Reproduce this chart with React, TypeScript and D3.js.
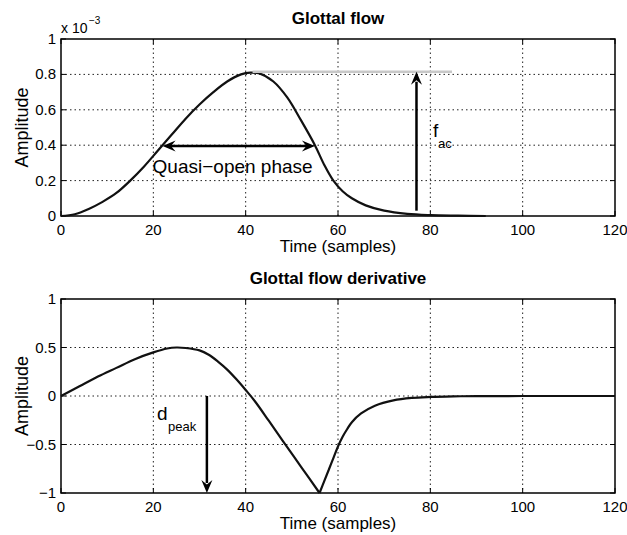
import React from 'react'
import * as d3 from 'd3'

// glottal flow (x 1e-3)
const flowT = [0, 3, 6, 9, 12, 15, 18, 21, 24, 27, 30, 33, 36, 39, 41, 43, 46, 49, 52, 55, 57, 59, 61, 63, 66, 70, 75, 80, 86, 92]
const flowV = [0, 0.01, 0.04, 0.08, 0.13, 0.2, 0.28, 0.37, 0.46, 0.55, 0.63, 0.7, 0.76, 0.8, 0.81, 0.805, 0.76, 0.67, 0.54, 0.4, 0.29, 0.2, 0.14, 0.1, 0.06, 0.03, 0.012, 0.005, 0.002, 0]

// glottal flow derivative
const derivT = [0, 4, 8, 12, 16, 20, 23, 25, 27, 30, 32, 34, 36, 38, 40, 42, 45, 48, 52, 56, 57, 58, 59, 60, 61, 62, 63, 65, 68, 72, 76, 80, 85, 90, 100, 120]
const derivV = [0, 0.1, 0.2, 0.29, 0.38, 0.45, 0.49, 0.5, 0.495, 0.47, 0.425, 0.355, 0.272, 0.172, 0.062, -0.054, -0.255, -0.46, -0.73, -1, -0.88, -0.76, -0.64, -0.52, -0.42, -0.34, -0.27, -0.18, -0.1, -0.045, -0.02, -0.01, -0.004, -0.001, 0, 0]

const xTicks = [0, 20, 40, 60, 80, 100, 120]
const flowTicks = [0, 0.2, 0.4, 0.6, 0.8, 1]
const derivTicks = [-1, -0.5, 0, 0.5, 1]

const font = '"Liberation Sans", Arial, sans-serif'
const left = 61
const right = 615

const fmt = (v: number) => (v < 0 ? '\u2212' + Math.abs(v) : String(v))

const arrowHead = (x: number, y: number, dx: number, dy: number, len = 13, half = 5.5) => {
	// tip at (x,y), pointing along (dx,dy)
	const n = Math.hypot(dx, dy)
	const ux = dx / n
	const uy = dy / n
	const px = -uy
	const py = ux
	const bx = x - ux * len
	const by = y - uy * len
	const ix = x - ux * len * 0.65
	const iy = y - uy * len * 0.65
	return `M${x},${y}L${bx + px * half},${by + py * half}L${ix},${iy}L${bx - px * half},${by - py * half}Z`
}

const Panel = ({ top, bottom, yDomain, yTicks, t, v, title }) => {
	const x = d3.scaleLinear().domain([0, 120]).range([left, right])
	const y = d3.scaleLinear().domain(yDomain).range([bottom, top])
	const line = d3
		.line<[number, number]>()
		.x(d => x(d[0]))
		.y(d => y(d[1]))
		.curve(d3.curveCatmullRom.alpha(0.5))
	// split at the minimum so a sharp corner stays sharp
	const pts: [number, number][] = t.map((d, i) => [d, v[i]])
	const iMin = d3.minIndex(v)
	const segs = iMin > 0 && iMin < v.length - 1 ? [pts.slice(0, iMin + 1), pts.slice(iMin)] : [pts]
	const tl = 5
	return (
		<g>
			{xTicks.slice(1, -1).map(d => (
				<line key={'gx' + d} x1={x(d)} x2={x(d)} y1={top} y2={bottom} stroke="#222" strokeWidth={1} strokeDasharray="1.5,3" />
			))}
			{yTicks.slice(1, -1).map(d => (
				<line key={'gy' + d} x1={left} x2={right} y1={y(d)} y2={y(d)} stroke="#222" strokeWidth={1} strokeDasharray="1.5,3" />
			))}
			{xTicks.map(d => (
				<g key={'tx' + d}>
					<line x1={x(d)} x2={x(d)} y1={bottom} y2={bottom - tl} stroke="#000" />
					<line x1={x(d)} x2={x(d)} y1={top} y2={top + tl} stroke="#000" />
					<text x={x(d)} y={bottom + 19} textAnchor="middle" fontSize={15} fontFamily={font}>
						{d}
					</text>
				</g>
			))}
			{yTicks.map(d => (
				<g key={'ty' + d}>
					<line x1={left} x2={left + tl} y1={y(d)} y2={y(d)} stroke="#000" />
					<line x1={right} x2={right - tl} y1={y(d)} y2={y(d)} stroke="#000" />
					<text x={left - 5} y={y(d) + 5} textAnchor="end" fontSize={15} fontFamily={font}>
						{fmt(d)}
					</text>
				</g>
			))}
			<rect x={left} y={top} width={right - left} height={bottom - top} fill="none" stroke="#000" strokeWidth={1.5} />
			{segs.map((s, i) => (
				<path key={'c' + i} d={line(s) || ''} fill="none" stroke="#111" strokeWidth={2.2} strokeLinejoin="round" />
			))}
			<text x={(left + right) / 2} y={top - 15} textAnchor="middle" fontSize={17} fontWeight="bold" fontFamily={font}>
				{title}
			</text>
			<text x={(left + right) / 2} y={bottom + 36} textAnchor="middle" fontSize={17} fontFamily={font}>
				Time (samples)
			</text>
			<text
				transform={`translate(28,${(top + bottom) / 2}) rotate(-90)`}
				textAnchor="middle"
				fontSize={18}
				fontFamily={font}
			>
				Amplitude
			</text>
		</g>
	)
}

export default function App() {
	const x = d3.scaleLinear().domain([0, 120]).range([left, right])
	const yTop = d3.scaleLinear().domain([0, 1]).range([216, 39])
	const yBot = d3.scaleLinear().domain([-1, 1]).range([493, 299])

	const fy = yTop(0.815)
	const qy = yTop(0.395)
	const ax = x(77)
	const dx = x(31.6)

	return (
		<svg width={627} height={535} style={{ position: 'absolute', left: 0, top: 0, background: '#fff' }}>
			<Panel top={39} bottom={216} yDomain={[0, 1]} yTicks={flowTicks} t={flowT} v={flowV} title="Glottal flow" />
			<Panel top={299} bottom={493} yDomain={[-1, 1]} yTicks={derivTicks} t={derivT} v={derivV} title="Glottal flow derivative" />

			{/* exponent */}
			<text x={61} y={33} fontSize={14} fontFamily={font}>
				x 10
			</text>
			<text x={89} y={24} fontSize={10} fontFamily={font}>
				{'\u22123'}
			</text>

			{/* f_ac annotation */}
			<line x1={x(41.5)} x2={x(84.7)} y1={fy} y2={fy} stroke="#c8c8c8" strokeWidth={2.5} />
			<line x1={ax} x2={ax} y1={yTop(0.03)} y2={fy + 10} stroke="#000" strokeWidth={2.5} />
			<path d={arrowHead(ax, fy, 0, -1)} fill="#000" />
			<text x={433} y={137} fontSize={19} fontFamily={font}>
				f
			</text>
			<text x={438} y={148} fontSize={13} fontFamily={font}>
				ac
			</text>

			{/* quasi-open phase */}
			<line x1={x(22) + 8} x2={x(55) - 8} y1={qy} y2={qy} stroke="#000" strokeWidth={2.5} />
			<path d={arrowHead(x(22), qy, -1, 0)} fill="#000" />
			<path d={arrowHead(x(55), qy, 1, 0)} fill="#000" />
			<text x={x(22) - 10} y={173} fontSize={19} fontFamily={font}>
				Quasi{'\u2212'}open phase
			</text>

			{/* d_peak annotation */}
			<line x1={dx} x2={dx} y1={yBot(0)} y2={yBot(-1) - 10} stroke="#000" strokeWidth={2.5} />
			<path d={arrowHead(dx, yBot(-1), 0, 1)} fill="#000" />
			<text x={157} y={420} fontSize={19} fontFamily={font}>
				d
			</text>
			<text x={168} y={431} fontSize={13} fontFamily={font}>
				peak
			</text>
		</svg>
	)
}
